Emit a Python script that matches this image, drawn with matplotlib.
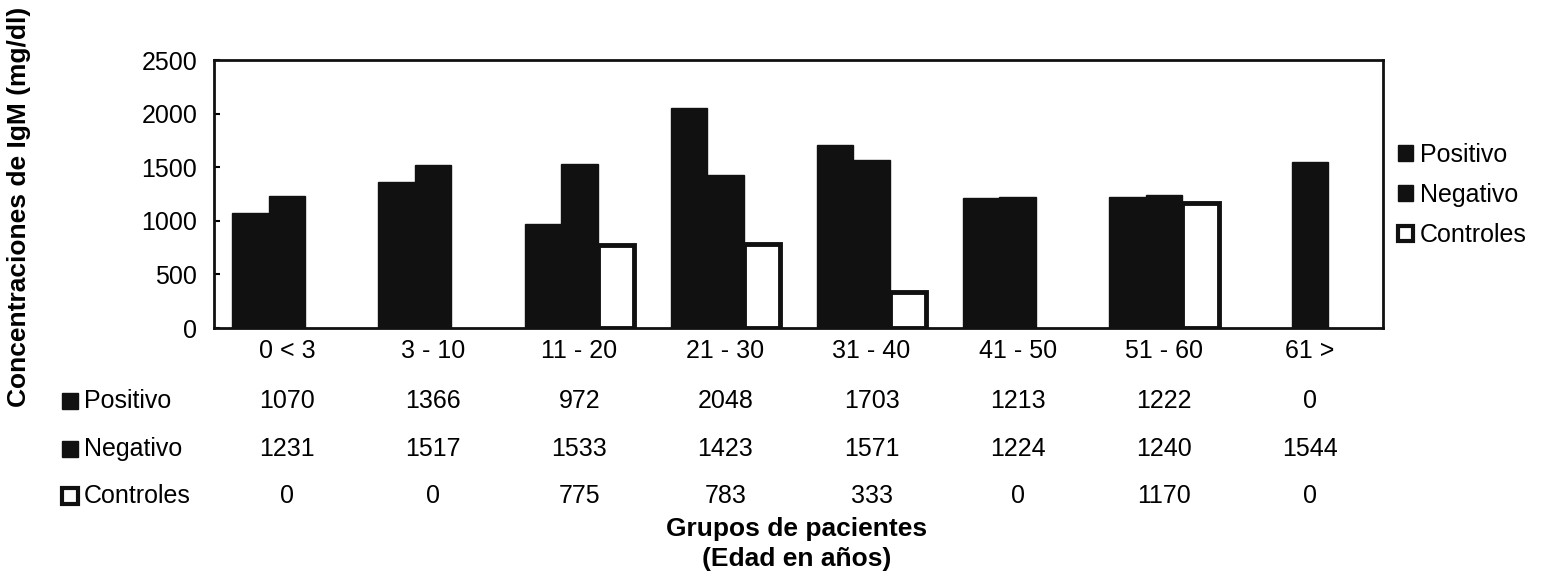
#!/usr/bin/env python3
import matplotlib
matplotlib.use("Agg")
import matplotlib.pyplot as plt
from matplotlib.patches import Patch, Rectangle
import numpy as np

plt.rcParams["font.family"] = ["Liberation Sans", "DejaVu Sans"]

grupos = ["0 < 3", "3 - 10", "11 - 20", "21 - 30", "31 - 40", "41 - 50", "51 - 60", "61 >"]
positivo = [1070, 1366, 972, 2048, 1703, 1213, 1222, 0]
negativo = [1231, 1517, 1533, 1423, 1571, 1224, 1240, 1544]
controles = [0, 0, 775, 783, 333, 0, 1170, 0]

series = ["Positivo", "Negativo", "Controles"]

FS = 18
W, H = 1561, 579
INK = "#111111"

fig = plt.figure(figsize=(W / 100, H / 100), dpi=100)
ax = fig.add_axes([214 / W, 1 - 328 / H, (1383 - 214) / W, 268 / H])

x = np.arange(len(grupos))
w = 0.25
bars = []
bars.append(ax.bar(x - w, positivo, w, color=INK, edgecolor=INK, linewidth=1))
bars.append(ax.bar(x, negativo, w, color=INK, edgecolor=INK, linewidth=1))
bars.append(ax.bar(x + w, controles, w, color="white", edgecolor=INK, linewidth=3.5))
# zero values are not drawn in the original
for cont, vals in zip(bars, [positivo, negativo, controles]):
    for b, v in zip(cont, vals):
        if v == 0:
            b.set_visible(False)

ax.set_xlim(-0.5, len(grupos) - 0.5)
ax.set_ylim(0, 2500)
ax.set_yticks(np.arange(0, 2501, 500))
ax.tick_params(axis="y", labelsize=FS, direction="in", length=4, width=1.5, pad=12)
ax.set_xticks(x)
ax.set_xticklabels(grupos, fontsize=FS)
ax.tick_params(axis="x", length=0, pad=8)
for s in ax.spines.values():
    s.set_linewidth(2)
    s.set_color(INK)

# data table under the chart
row_y = [-0.272, -0.451, -0.627]
for vals, yy in zip([positivo, negativo, controles], row_y):
    for xi, v in zip(x, vals):
        ax.text(xi, yy, str(v), transform=ax.get_xaxis_transform(),
                ha="center", va="center", fontsize=FS)

row_fill = [INK, INK, "white"]
for name, fc, yy in zip(series, row_fill, row_y):
    fy = (1 - 328 / H) + yy * 268 / H
    sq = 16
    fig.patches.append(Rectangle((62 / W, fy - sq / 2 / H), sq / W, sq / H,
                                 transform=fig.transFigure, facecolor=fc,
                                 edgecolor=INK, linewidth=3 if fc == "white" else 1))
    fig.text(84 / W, fy, name, ha="left", va="center", fontsize=FS)

fig.text(19 / W, 1 - 207 / H, "Concentraciones de IgM (mg/dl)", rotation=90,
         ha="center", va="center", fontsize=19, fontweight="bold")
fig.text(797 / W, 1 - 544 / H, "Grupos de pacientes\n(Edad en años)",
         ha="center", va="center", fontsize=19, fontweight="bold", linespacing=1.35)

handles = [
    Patch(facecolor=INK, edgecolor=INK, label="Positivo"),
    Patch(facecolor=INK, edgecolor=INK, label="Negativo"),
    Patch(facecolor="white", edgecolor=INK, linewidth=3, label="Controles"),
]
fig.legend(handles=handles, loc="center left", bbox_to_anchor=(1375 / W, 1 - 195 / H),
           frameon=False, fontsize=FS, handlelength=0.6, handleheight=0.6,
           handletextpad=0.3, labelspacing=0.65)

fig.savefig("out.png", dpi=100)
